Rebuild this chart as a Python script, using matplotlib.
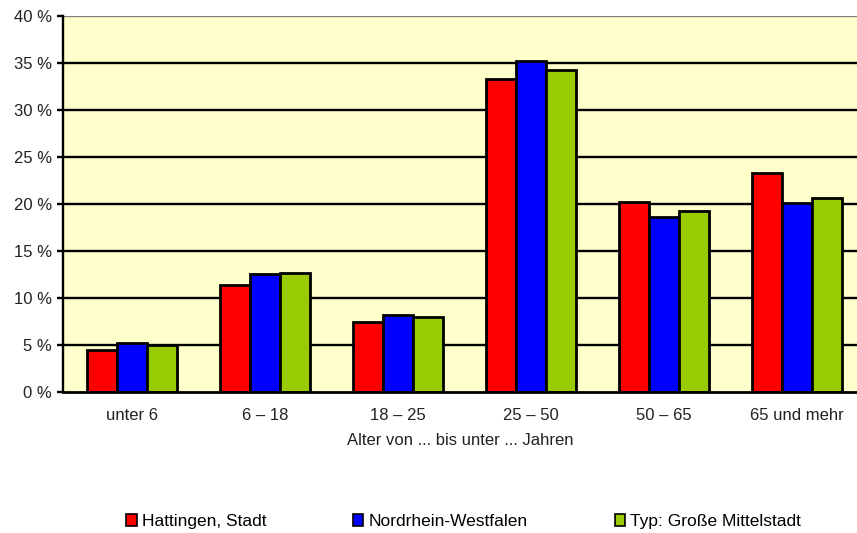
import matplotlib
matplotlib.use("Agg")
import matplotlib.pyplot as plt
import numpy as np
from matplotlib.patches import Patch

plt.rcParams['font.family'] = ['Liberation Sans', 'DejaVu Sans']

categories = ["unter 6", "6 \u2013 18", "18 \u2013 25", "25 \u2013 50", "50 \u2013 65", "65 und mehr"]
series_names = ["Hattingen, Stadt", "Nordrhein-Westfalen", "Typ: Gro\u00dfe Mittelstadt"]
hattingen = [4.4, 11.4, 7.4, 33.3, 20.2, 23.3]
nrw = [5.2, 12.5, 8.2, 35.2, 18.6, 20.1]
mittelstadt = [5.0, 12.6, 8.0, 34.2, 19.2, 20.6]
colors = ["#FF0000", "#0000FF", "#99CC00"]
yticks = [0, 5, 10, 15, 20, 25, 30, 35, 40]
ytick_labels = [f"{v} %" for v in yticks]

fig = plt.figure(figsize=(8.57, 5.33), dpi=100)
ax = fig.add_axes([63 / 857, 1 - 391.7 / 533, 1 - 63 / 857, (391.7 - 15.7) / 533])
ax.set_facecolor("#FFFFCC")

x = np.arange(len(categories))
w = 0.225
for i, (vals, col) in enumerate(zip([hattingen, nrw, mittelstadt], colors)):
    ax.bar(x + (i - 1) * w, vals, width=w, color=col, edgecolor="black",
           linewidth=2.0, zorder=3)

ax.set_ylim(0, 40)
ax.set_xlim(-0.52, 5.45)
ax.set_yticks(yticks)
ax.set_yticklabels(ytick_labels)
ax.set_xticks(x)
ax.set_xticklabels(categories)

for v in yticks[1:-1]:
    ax.axhline(v, color="black", linewidth=1.7, zorder=1)
ax.axhline(40, color="#808080", linewidth=1.7, zorder=1)

for s in ["top", "right"]:
    ax.spines[s].set_visible(False)
ax.spines["left"].set_linewidth(1.7)
ax.spines["bottom"].set_linewidth(2.0)
ax.spines["left"].set_zorder(4)
ax.spines["bottom"].set_zorder(4)

ax.tick_params(axis="y", length=4, width=1.7, pad=4, labelsize=12, labelcolor="#222222")
ax.tick_params(axis="x", length=0, pad=12, labelsize=12, labelcolor="#222222")
ax.set_xlabel("Alter von ... bis unter ... Jahren", fontsize=12, color="#222222", labelpad=7)

handles = [Patch(facecolor=c, edgecolor="black", linewidth=1.2) for c in colors]
fig.legend(handles, series_names, loc="center", bbox_to_anchor=(0.541, 0.022),
           ncol=3, frameon=False, fontsize=12.5, handlelength=0.6, handleheight=0.7,
           handletextpad=0.3, columnspacing=5.0)

fig.savefig("out.png", dpi=100, facecolor="white")
